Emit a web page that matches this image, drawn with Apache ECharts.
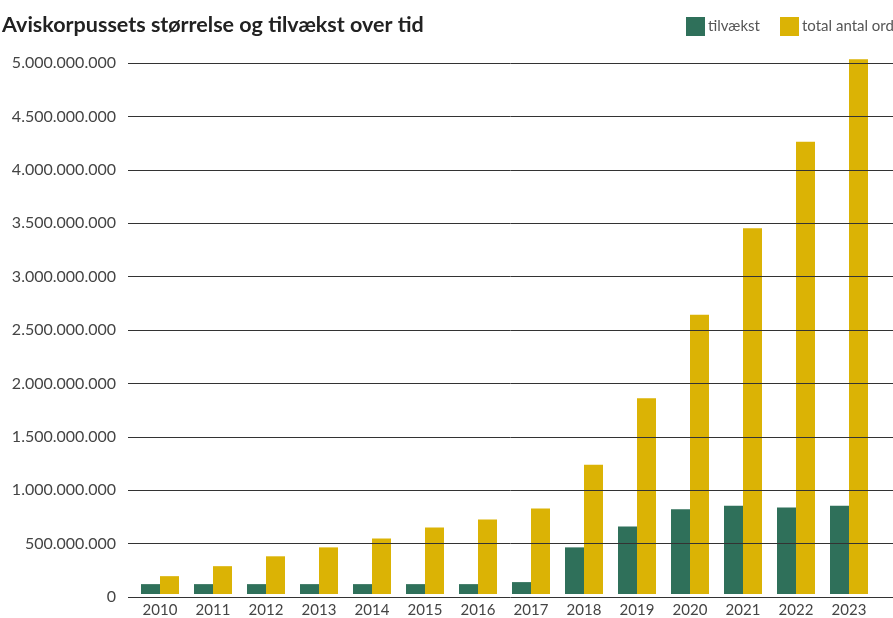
<!DOCTYPE html>
<html><head><meta charset="utf-8">
<script src="https://cdn.jsdelivr.net/npm/echarts@6/dist/echarts.min.js"></script>
<style>html,body{margin:0;padding:0;background:#fff}#c{width:893px;height:618px}</style>
</head><body><div id="c"></div>
<script>
const years = ['2010','2011','2012','2013','2014','2015','2016','2017','2018','2019','2020','2021','2022','2023'];
const tilvaekst = [93e6, 93e6, 93e6, 93e6, 93e6, 93e6, 93e6, 112e6, 439e6, 636e6, 798e6, 832e6, 815e6, 832e6];
const totalAntalOrd = [168e6, 262e6, 355e6, 439e6, 523e6, 626e6, 701e6, 804e6, 1218e6, 1843e6, 2630e6, 3445e6, 4259e6, 5035e6];
const yMin = 0, yMax = 5e9, yStep = 5e8;

const FONT = 'Lato';
const fmt = v => String(Math.round(v)).replace(/\B(?=(\d{3})+(?!\d))/g, '.');
const legendText = {fontFamily: FONT, fontSize: 15, color: '#555', padding: [0, 0, 0, -2]};
const chart = echarts.init(document.getElementById('c'), null, {renderer: 'canvas'});
chart.setOption({
  animation: false,
  backgroundColor: '#ffffff',
  textStyle: {fontFamily: FONT},
  title: {
    text: 'Aviskorpussets størrelse og tilvækst over tid',
    left: -3, top: 9,
    textStyle: {fontFamily: FONT, fontWeight: 'bold', fontSize: 21.5, color: '#222'}
  },
  legend: [
    {left: 681, top: 12, icon: 'rect', itemWidth: 19, itemHeight: 19,
     textStyle: legendText, data: ['tilvækst']},
    {left: 775, top: 12, icon: 'rect', itemWidth: 19, itemHeight: 19,
     textStyle: legendText, data: ['total antal ord']}
  ],
  grid: [
    {left: 128, right: 0, top: 63, bottom: 21, containLabel: false},
    {left: 133.5, right: 17.5, top: 63, bottom: 21, containLabel: false}
  ],
  xAxis: [
    {gridIndex: 0, type: 'value', show: false, min: 0, max: 1},
    {gridIndex: 1, type: 'category', data: years,
     axisLine: {show: false}, axisTick: {show: false},
     axisLabel: {fontFamily: FONT, fontSize: 15, color: '#444', margin: 9}}
  ],
  yAxis: [
    {gridIndex: 0, type: 'value', min: yMin, max: yMax, interval: yStep, z: 5,
     axisLine: {show: false}, axisTick: {show: false},
     axisLabel: {fontFamily: FONT, fontSize: 16, color: '#444', margin: 12, formatter: fmt},
     splitLine: {show: true, lineStyle: {color: '#333', width: 1}}},
    {gridIndex: 1, type: 'value', min: yMin, max: yMax, interval: yStep, show: false,
     splitLine: {show: false}}
  ],
  series: [
    {name: 'tilvækst', type: 'bar', xAxisIndex: 1, yAxisIndex: 1, data: tilvaekst, clip: false,
     barWidth: 19, barGap: '0%', itemStyle: {color: '#2f705a'}},
    {name: 'total antal ord', type: 'bar', xAxisIndex: 1, yAxisIndex: 1, data: totalAntalOrd, clip: false,
     barWidth: 19, barGap: '0%', itemStyle: {color: '#dbb305'}}
  ]
});
</script></body></html>
